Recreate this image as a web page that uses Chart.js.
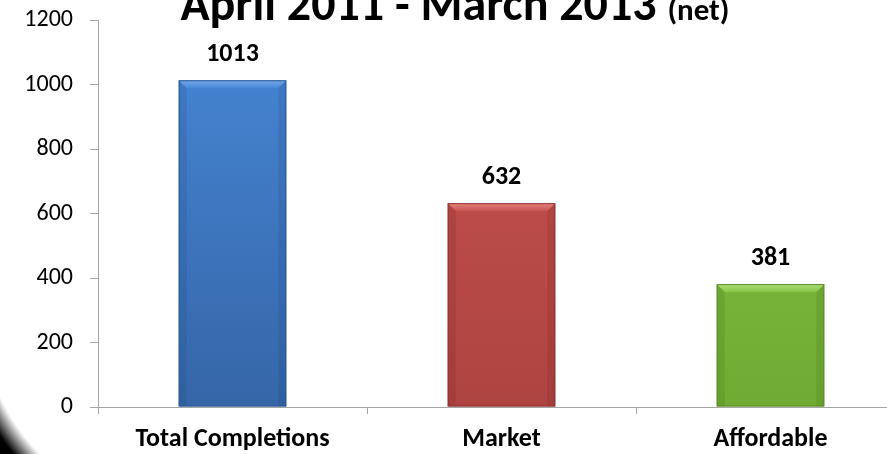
<!DOCTYPE html>
<html>
<head>
<meta charset="utf-8">
<script src="https://cdn.jsdelivr.net/npm/chart.js@4/dist/chart.umd.min.js"></script>
<style>
  html, body { margin: 0; padding: 0; background: #fff; overflow: hidden; }
  canvas { display: block; }
</style>
</head>
<body>
<canvas id="completionsChart" width="905" height="454"></canvas>
<script>
var categories = ['Total Completions', 'Market', 'Affordable'];
var completions = [1013, 632, 381];
var yMin = 0;
var yMax = 1200;
var yStep = 200;
var titleMain = 'April 2011 - March 2013';
var titleSub = '(net)';

var FONT = 'Carlito, Lato, sans-serif';

// body gradient top/bottom, bevel light, outline
var barStyles = [
    { top: '#4787d6', bottom: '#3566a8', light: '#76aaea', side: 'rgba(20,50,100,0.12)', line: '#2c5a96' },
    { top: '#c6524f', bottom: '#ae4441', light: '#e8847f', side: 'rgba(90,20,20,0.12)', line: '#8e3532' },
    { top: '#84c443', bottom: '#70ab33', light: '#aee07a', side: 'rgba(40,70,10,0.12)', line: '#5c8d2a' }
];

function bodyFill(context) {
    var chart = context.chart;
    var area = chart.chartArea;
    var st = barStyles[context.dataIndex];
    if (!area) return st.top;
    var g = chart.ctx.createLinearGradient(0, area.top, 0, area.bottom);
    g.addColorStop(0, st.top);
    g.addColorStop(1, st.bottom);
    return g;
}

var bevelPlugin = {
    id: 'bevel',
    afterDatasetsDraw: function(chart) {
        var ctx = chart.ctx;
        var meta = chart.getDatasetMeta(0);
        meta.data.forEach(function(bar, i) {
            var st = barStyles[i];
            var w = bar.width;
            var l = bar.x - w / 2, r = bar.x + w / 2, t = bar.y, b = bar.base;
            var s = 8;
            ctx.save();
            var g = ctx.createLinearGradient(0, t, 0, t + s);
            g.addColorStop(0, st.light);
            g.addColorStop(1, st.top);
            ctx.fillStyle = g;
            ctx.beginPath();
            ctx.moveTo(l, t); ctx.lineTo(r, t); ctx.lineTo(r - s, t + s); ctx.lineTo(l + s, t + s);
            ctx.closePath();
            ctx.fill();
            ctx.fillStyle = st.side;
            ctx.beginPath();
            ctx.moveTo(l, t); ctx.lineTo(l + s, t + s); ctx.lineTo(l + s, b); ctx.lineTo(l, b);
            ctx.closePath();
            ctx.fill();
            ctx.beginPath();
            ctx.moveTo(r, t); ctx.lineTo(r - s, t + s); ctx.lineTo(r - s, b); ctx.lineTo(r, b);
            ctx.closePath();
            ctx.fill();
            ctx.strokeStyle = st.line;
            ctx.lineWidth = 1;
            ctx.strokeRect(l + 0.5, t + 0.5, w - 1, b - t - 1);
            ctx.restore();
        });
    }
};

var valueLabels = {
    id: 'valueLabels',
    afterDatasetsDraw: function(chart) {
        var ctx = chart.ctx;
        var meta = chart.getDatasetMeta(0);
        ctx.save();
        ctx.font = 'bold 26px ' + FONT;
        ctx.fillStyle = '#000';
        ctx.textAlign = 'center';
        ctx.textBaseline = 'middle';
        meta.data.forEach(function(bar, i) {
            ctx.fillText(String(completions[i]), bar.x, bar.y - 26);
        });
        ctx.restore();
    }
};

var titlePlugin = {
    id: 'splitTitle',
    afterDraw: function(chart) {
        var ctx = chart.ctx;
        ctx.save();
        ctx.fillStyle = '#000';
        ctx.textBaseline = 'alphabetic';
        ctx.textAlign = 'left';
        var mainFont = 'bold 48px ' + FONT;
        var subFont = 'bold 31px ' + FONT;
        ctx.font = mainFont;
        var w1 = ctx.measureText(titleMain + ' ').width;
        ctx.font = subFont;
        var w2 = ctx.measureText(titleSub).width;
        var x0 = 455 - (w1 + w2) / 2;
        ctx.font = mainFont;
        ctx.fillText(titleMain + ' ', x0, 20);
        ctx.font = subFont;
        ctx.fillText(titleSub, x0 + w1, 20);
        ctx.restore();
    }
};

var cornerPlugin = {
    id: 'darkCorner',
    afterDraw: function(chart) {
        var ctx = chart.ctx;
        ctx.save();
        var g = ctx.createRadialGradient(200, 300, 222, 200, 300, 242);
        g.addColorStop(0, 'rgba(0,0,0,0)');
        g.addColorStop(1, 'rgba(0,0,0,1)');
        ctx.fillStyle = g;
        ctx.fillRect(0, 370, 90, 84);
        ctx.restore();
    }
};

new Chart(document.getElementById('completionsChart'), {
    type: 'bar',
    data: {
        labels: categories,
        datasets: [{
            data: completions,
            backgroundColor: bodyFill,
            borderWidth: 0,
            barPercentage: 0.4,
            categoryPercentage: 1.0
        }]
    },
    options: {
        responsive: false,
        animation: false,
        layout: { padding: { top: 20, left: 0, right: 0, bottom: 0 } },
        plugins: {
            legend: { display: false },
            title: { display: false },
            tooltip: { enabled: false }
        },
        scales: {
            x: {
                offset: true,
                grid: { offset: true, drawOnChartArea: false, drawTicks: true, tickLength: 7, color: '#a6a6a6' },
                border: { display: true, color: '#a6a6a6', width: 1 },
                ticks: { color: '#000', font: { family: FONT, size: 26, weight: 'bold' }, padding: 10 },
                afterFit: function(scale) { scale.height = 47; }
            },
            y: {
                min: yMin,
                max: yMax,
                grid: { drawOnChartArea: false, drawTicks: true, tickLength: 8, color: '#a6a6a6' },
                border: { display: true, color: '#a6a6a6', width: 1 },
                ticks: {
                    stepSize: yStep, color: '#000', font: { family: FONT, size: 24 }, padding: 17,
                    callback: function(value) { return String(value); }
                },
                afterFit: function(scale) {
                    scale.width = 98;
                    scale.paddingTop = 0;
                    scale.paddingBottom = 0;
                }
            }
        }
    },
    plugins: [bevelPlugin, valueLabels, titlePlugin, cornerPlugin]
});
</script>
</body>
</html>
